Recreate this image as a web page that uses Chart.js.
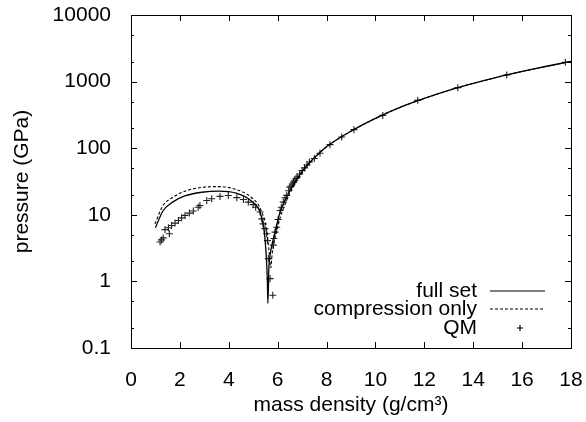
<!DOCTYPE html>
<html>
<head>
<meta charset="utf-8">
<script src="https://cdn.jsdelivr.net/npm/chart.js@4.4.1/dist/chart.umd.min.js"></script>
<style>
  html, body { margin: 0; padding: 0; background: #fff; }
  #wrap { width: 586px; height: 422px; }
</style>
</head>
<body>
<div id="wrap"><canvas id="grafico"></canvas></div>
<script>
// full set (solid line)
const fullX = [1.0, 1.3, 1.7, 2.2, 2.9, 3.6, 4.3, 4.9, 5.3, 5.45, 5.53, 5.58, 5.6, 5.64, 5.7, 5.8, 5.9, 6.0, 6.1, 6.25, 6.5, 7.0, 7.5, 8, 9, 10, 11, 12, 13, 14, 15, 16, 17, 18];
const fullY = [6.4, 11.3, 15.5, 19.2, 21.8, 22.7, 21.2, 16.4, 10.4, 5.6, 2.5, 1.0, 0.47, 1.6, 2.6, 4.0, 5.6, 8.0, 11, 15, 23, 45, 72, 105, 180, 280, 410, 560, 740, 940, 1170, 1420, 1700, 2010];

// compression only (dashed line)
const compX = [0.98, 1.3, 1.7, 2.3, 3.0, 3.6, 4.3, 4.9, 5.3, 5.55, 5.65, 5.72, 5.77, 5.85, 5.95, 6.1, 6.25, 6.5, 7.0, 7.5, 8, 9, 10, 11, 12, 13, 14, 15, 16, 17, 18];
const compY = [7.3, 13.6, 18.2, 23.2, 26, 26.5, 24, 18.5, 12.2, 5.8, 2.8, 1.6, 2.5, 3.8, 5.5, 9, 13, 21, 43, 71, 105, 180, 280, 410, 560, 740, 940, 1170, 1420, 1700, 2010];

// QM (+)
const qmX = [1.19, 1.25, 1.32, 1.39, 1.53, 1.57, 1.66, 1.8, 1.94, 2.07, 2.21, 2.39, 2.55, 2.75, 2.82, 3.1, 3.3, 3.64, 3.98, 4.33, 4.6, 4.8, 5.0, 5.1, 5.28, 5.35, 5.41, 5.48, 5.55, 5.58, 5.62, 5.69, 5.8,
  5.82, 5.85, 5.89, 5.96, 6.02, 6.1, 6.15, 6.23, 6.3, 6.37, 6.45, 6.5, 6.55, 6.6, 6.65, 6.7, 6.75, 6.8, 6.9, 7.0, 7.1, 7.2, 7.3, 7.5, 7.73, 8.14, 8.62, 9.12, 10.3, 11.73, 13.37, 15.37, 17.77];
const qmY = [3.9, 4.2, 4.5, 6.0, 6.4, 5.2, 6.9, 7.5, 8.2, 9.0, 9.8, 10.6, 11.4, 13.0, 13.8, 16.4, 17.4, 18.9, 19.5, 18.1, 17.0, 15.5, 14.2, 13.0, 11.0, 8.7, 7.3, 6.2, 5.2, 4.1, 2.2, 1.1, 0.62,
  3.5, 4.4, 5.5, 6.5, 8.5, 11.6, 13, 15.5, 18, 19.5, 23, 26, 27, 29, 31, 33, 35, 37, 41, 46, 51, 56, 62, 70, 84, 113, 147, 190, 311, 523, 811, 1256, 1950];

const xTicks = [0, 2, 4, 6, 8, 10, 12, 14, 16, 18];
const yTicks = [0.1, 1, 10, 100, 1000, 10000];
const yMinor = [0.2, 0.5, 2, 5, 20, 50, 200, 500, 2000, 5000];

const fonte = '"Liberation Sans", Arial, sans-serif';
const tamanho = 21;

function pares(xs, ys) {
    return xs.map((x, i) => ({ x: x, y: ys[i] }));
}

// moldura e marcas para dentro, estilo gnuplot
const molduraPlugin = {
    id: 'moldura',
    afterDraw(chart) {
        const ctx = chart.ctx;
        const a = chart.chartArea;
        const sx = chart.scales.x;
        const sy = chart.scales.y;
        ctx.save();
        ctx.strokeStyle = '#000';
        ctx.lineWidth = 1;
        ctx.strokeRect(a.left + 0.5, a.top + 0.5, a.right - a.left, a.bottom - a.top);
        ctx.beginPath();
        xTicks.forEach(v => {
            const px = Math.round(sx.getPixelForValue(v)) + 0.5;
            ctx.moveTo(px, a.bottom); ctx.lineTo(px, a.bottom - 6);
            ctx.moveTo(px, a.top); ctx.lineTo(px, a.top + 6);
        });
        yTicks.forEach(v => {
            const py = Math.round(sy.getPixelForValue(v)) + 0.5;
            ctx.moveTo(a.left, py); ctx.lineTo(a.left + 6, py);
            ctx.moveTo(a.right, py); ctx.lineTo(a.right - 6, py);
        });
        yMinor.forEach(v => {
            const py = Math.round(sy.getPixelForValue(v)) + 0.5;
            ctx.moveTo(a.left, py); ctx.lineTo(a.left + 3, py);
            ctx.moveTo(a.right, py); ctx.lineTo(a.right - 3, py);
        });
        ctx.stroke();

        // legenda dentro do gráfico, canto inferior direito
        ctx.font = tamanho + 'px ' + fonte;
        ctx.fillStyle = '#000';
        ctx.textAlign = 'right';
        ctx.textBaseline = 'middle';
        const textoX = a.right - 94;
        const linhas = [a.bottom - 57, a.bottom - 39, a.bottom - 20];
        chart.data.datasets.forEach((ds, i) => {
            const y = linhas[i];
            ctx.fillText(ds.label, textoX, y);
            ctx.beginPath();
            ctx.lineWidth = 1.2;
            if (i === 2) {
                ctx.setLineDash([]);
                const cx = a.right - 51;
                ctx.moveTo(cx - 3, y); ctx.lineTo(cx + 3, y);
                ctx.moveTo(cx, y - 3); ctx.lineTo(cx, y + 3);
            } else {
                ctx.setLineDash(ds.borderDash || []);
                ctx.moveTo(a.right - 81, y); ctx.lineTo(a.right - 26, y);
            }
            ctx.stroke();
        });
        ctx.restore();
    }
};

new Chart(document.getElementById('grafico').getContext('2d'), {
    type: 'scatter',
    data: {
        datasets: [
            { label: 'full set', data: pares(fullX, fullY), showLine: true, borderColor: '#000', borderWidth: 1.3, pointRadius: 0, cubicInterpolationMode: 'monotone' },
            { label: 'compression only', data: pares(compX, compY), showLine: true, borderColor: '#000', borderWidth: 1.1, borderDash: [3, 2], pointRadius: 0, cubicInterpolationMode: 'monotone' },
            { label: 'QM', data: pares(qmX, qmY), showLine: false, pointStyle: 'cross', pointRadius: 3.5, borderColor: '#222', borderWidth: 1.1 }
        ]
    },
    options: {
        responsive: true,
        maintainAspectRatio: false,
        animation: false,
        layout: { padding: { top: 15, right: 15, left: 0, bottom: 0 } },
        plugins: { legend: { display: false }, tooltip: { enabled: false } },
        scales: {
            x: {
                type: 'linear', min: 0, max: 18,
                afterBuildTicks: s => { s.ticks = xTicks.map(v => ({ value: v })); },
                afterFit: s => { s.height = 74; s.paddingLeft = 0; s.paddingRight = 0; },
                grid: { display: false },
                border: { display: false },
                ticks: { color: '#000', padding: 12, maxRotation: 0, font: { family: fonte, size: tamanho } },
                title: { display: true, text: 'mass density (g/cm³)', color: '#000', padding: { top: 0 }, font: { family: fonte, size: tamanho } }
            },
            y: {
                type: 'logarithmic', min: 0.1, max: 10000,
                afterBuildTicks: s => { s.ticks = yTicks.map(v => ({ value: v })); },
                afterFit: s => { s.width = 131; s.paddingTop = 0; s.paddingBottom = 0; },
                grid: { display: false },
                border: { display: false },
                ticks: { color: '#000', padding: 12, callback: v => String(v), font: { family: fonte, size: tamanho } },
                title: { display: true, text: 'pressure (GPa)', color: '#000', padding: { top: 10, bottom: 0 }, font: { family: fonte, size: tamanho } }
            }
        }
    },
    plugins: [molduraPlugin]
});
</script>
</body>
</html>
